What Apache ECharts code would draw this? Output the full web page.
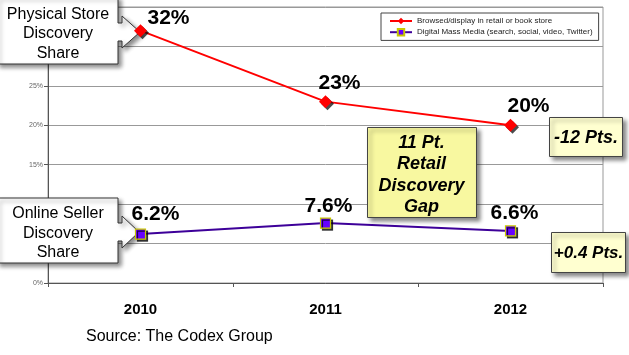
<!DOCTYPE html>
<html>
<head>
<meta charset="utf-8">
<script src="https://cdn.jsdelivr.net/npm/echarts@6/dist/echarts.min.js"></script>
<style>
html,body{margin:0;padding:0;background:#fff;}
#chart{width:629px;height:355px;}
</style>
</head>
<body>
<div id="chart"></div>
<script>
var categories = ['2010', '2011', '2012'];
var storeName = 'Browsed/display in retail or book store';
var onlineName = 'Digital Mass Media (search, social, video, Twitter)';
var storeValues = [32, 23, 20];
var onlineValues = [6.2, 7.6, 6.6];
var yTicks = [0, 5, 10, 15, 20, 25, 30, 35];

var FONT = 'Liberation Sans, Arial, sans-serif';
var chart = echarts.init(document.getElementById('chart'), null, {renderer: 'canvas'});

function lbl(dx, dy) {
  return {show: true, position: 'top', offset: [dx, dy], formatter: '{c}%',
    fontFamily: FONT, fontWeight: 'bold', fontSize: 21, color: '#000'};
}

var shadow = {shadowColor: 'rgba(0,0,0,0.45)', shadowBlur: 4, shadowOffsetX: 3, shadowOffsetY: 3};

function boxText(x, y, text, size, italicBold) {
  return {type: 'text', z: 6, x: x, y: y, style: {
    text: text, fill: '#000', align: 'center', verticalAlign: 'middle',
    font: (italicBold ? 'italic bold ' : '') + size + 'px ' + FONT,
    lineHeight: italicBold ? 21.5 : 19.5
  }};
}

var option = {
  backgroundColor: '#fff',
  animation: false,
  grid: {left: 48, right: 26, top: 7, bottom: 72, show: true, borderColor: '#999', borderWidth: 1},
  legend: {
    orient: 'vertical', left: 381, top: 13, itemGap: 3, itemWidth: 22, itemHeight: 8,
    padding: [4, 6, 4, 8], borderColor: '#444', borderWidth: 1, backgroundColor: '#fff',
    textStyle: {fontFamily: FONT, fontSize: 8, color: '#222'},
    data: [storeName, onlineName]
  },
  xAxis: {
    type: 'category', data: categories, boundaryGap: true,
    axisLine: {lineStyle: {color: '#555', width: 1}},
    axisTick: {show: true, length: 4, lineStyle: {color: '#555'}},
    axisLabel: {margin: 19, fontFamily: FONT, fontWeight: 'bold', fontSize: 15, color: '#000'},
    splitLine: {show: false}
  },
  yAxis: {
    type: 'value', min: yTicks[0], max: yTicks[yTicks.length - 1], interval: 5,
    axisLine: {show: true, lineStyle: {color: '#555', width: 1}},
    axisTick: {show: true, length: 4, lineStyle: {color: '#555'}},
    axisLabel: {margin: 5, fontFamily: FONT, fontSize: 7, color: '#666', formatter: '{value}%'},
    splitLine: {show: true, lineStyle: {color: '#999', width: 1}}
  },
  series: [
    {
      name: storeName, type: 'line', z: 3,
      data: [
        {value: storeValues[0], label: lbl(28, 10)},
        {value: storeValues[1], label: lbl(14, 4)},
        {value: storeValues[2], label: lbl(18, 3)}
      ],
      symbol: 'diamond', symbolSize: 13,
      lineStyle: {color: '#ff0000', width: 2},
      itemStyle: {color: '#ff0000', shadowColor: 'rgba(0,0,0,0.7)', shadowBlur: 0, shadowOffsetX: 2, shadowOffsetY: 2}
    },
    {
      name: onlineName, type: 'line', z: 3,
      data: [
        {value: onlineValues[0], label: lbl(15, 1)},
        {value: onlineValues[1], label: lbl(3, 4)},
        {value: onlineValues[2], label: lbl(4, 3)}
      ],
      symbol: 'rect', symbolSize: 10,
      lineStyle: {color: '#3d0099', width: 2},
      itemStyle: {color: '#6600ff', borderColor: '#c8c800', borderWidth: 1.2,
        shadowColor: 'rgba(0,0,0,0.7)', shadowBlur: 0, shadowOffsetX: 2, shadowOffsetY: 2}
    }
  ],
  graphic: [
    {type: 'polygon', z: 1, shape: {points: [[-3,-3],[118,-3],[118,23],[122,23],[122,16],[140,32],[122,48],[122,41],[118,41],[118,64],[-3,64]]},
      style: Object.assign({fill: '#fff', stroke: '#333', lineWidth: 1}, shadow)},
    boxText(58, 34, 'Physical Store\nDiscovery\nShare', 16, false),
    {type: 'polygon', z: 1, shape: {points: [[-3,198],[118,198],[118,223],[122,223],[122,216],[139,232],[122,248],[122,241],[118,241],[118,263],[-3,263]]},
      style: Object.assign({fill: '#fff', stroke: '#333', lineWidth: 1}, shadow)},
    boxText(58, 233.5, 'Online Seller\nDiscovery\nShare', 16, false),
    {type: 'rect', z: 5, shape: {x: 367.5, y: 127.5, width: 109, height: 90},
      style: Object.assign({fill: '#f8f8a0', stroke: '#444', lineWidth: 1}, shadow)},
    boxText(421.5, 175, '11 Pt.\nRetail\nDiscovery\nGap', 18, true),
    {type: 'rect', z: 5, shape: {x: 549.5, y: 117.5, width: 73, height: 39},
      style: Object.assign({fill: '#ffffd0', stroke: '#444', lineWidth: 1}, shadow)},
    boxText(586, 138, '-12 Pts.', 18, true),
    {type: 'rect', z: 5, shape: {x: 551.5, y: 232.5, width: 74, height: 40},
      style: Object.assign({fill: '#ffffd0', stroke: '#444', lineWidth: 1}, shadow)},
    boxText(588.5, 253, '+0.4 Pts.', 17, true),
    {type: 'text', z: 6, x: 86, y: 337, style: {text: 'Source: The Codex Group', fill: '#000',
      font: '16px ' + FONT, align: 'left', verticalAlign: 'middle'}}
  ]
};
chart.setOption(option);
</script>
</body>
</html>
